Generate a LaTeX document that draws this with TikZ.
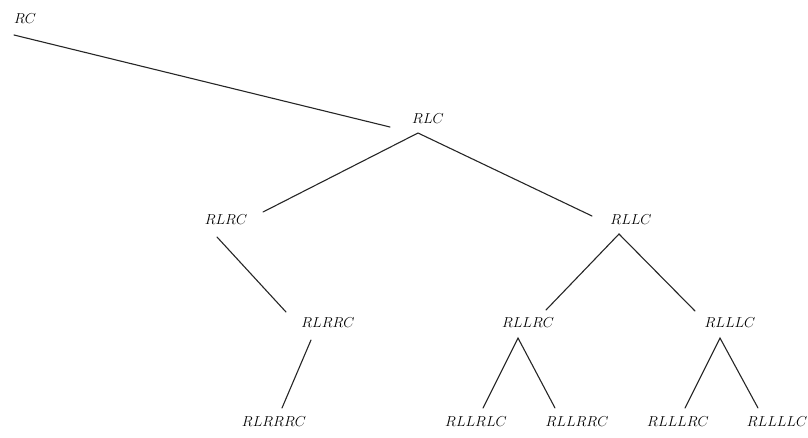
\documentclass[tikz,border=0pt]{standalone}
\begin{document}
\begin{tikzpicture}[x=1pt,y=-1pt,
  lbl/.style={inner sep=0pt,anchor=center,font=\fontsize{14}{14}\selectfont},
  edge/.style={line width=1.1pt,draw=black!85,line cap=round}]
\useasboundingbox (0,0) rectangle (808,437);
% nodes
\node[lbl] (RC) at (25,19) {$RC$};
\node[lbl] (RLC) at (428,119) {$RLC$};
\node[lbl] (RLRC) at (226,220) {$RLRC$};
\node[lbl] (RLLC) at (631,220) {$RLLC$};
\node[lbl] (RLRRC) at (328,323) {$RLRRC$};
\node[lbl] (RLLRC) at (528,323) {$RLLRC$};
\node[lbl] (RLLLC) at (730,323) {$RLLLC$};
\node[lbl] (RLRRRC) at (274,422) {$RLRRRC$};
\node[lbl] (RLLRLC) at (476,422) {$RLLRLC$};
\node[lbl] (RLLRRC) at (577,422) {$RLLRRC$};
\node[lbl] (RLLLRC) at (678,422) {$RLLLRC$};
\node[lbl] (RLLLLC) at (777,422) {$RLLLLC$};
% connector ends
\coordinate (rcA) at (14,35);   \coordinate (rlcIn) at (390,127);
\coordinate (rlcA) at (418,133);
\coordinate (rlrcIn) at (263,212); \coordinate (rllcIn) at (592,216);
\coordinate (rlrcA) at (217,237); \coordinate (rlrrcIn) at (286,312);
\coordinate (rllcA) at (619,234);
\coordinate (rllrcIn) at (546,310); \coordinate (rlllcIn) at (695,311);
\coordinate (rlrrcA) at (311,340); \coordinate (rlrrrcIn) at (282,408);
\coordinate (rllrcA) at (518,338);
\coordinate (rllrlcIn) at (483,408); \coordinate (rllrrcIn) at (555,408);
\coordinate (rlllcA) at (720,338);
\coordinate (rlllrcIn) at (685,408); \coordinate (rllllcIn) at (758,408);
% connectors
\draw[edge] (rcA) -- (rlcIn);
\draw[edge] (rlrcIn) -- (rlcA) -- (rllcIn);
\draw[edge] (rlrcA) -- (rlrrcIn);
\draw[edge] (rllrcIn) -- (rllcA) -- (rlllcIn);
\draw[edge] (rlrrcA) -- (rlrrrcIn);
\draw[edge] (rllrlcIn) -- (rllrcA) -- (rllrrcIn);
\draw[edge] (rlllrcIn) -- (rlllcA) -- (rllllcIn);
\end{tikzpicture}
\end{document}
